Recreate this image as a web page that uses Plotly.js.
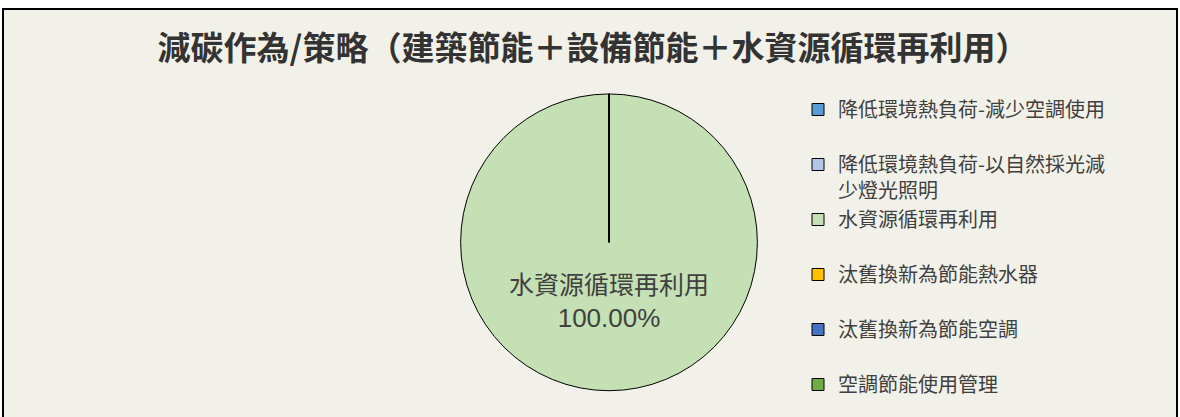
<!DOCTYPE html>
<html>
<head>
<meta charset="utf-8">
<script src="https://cdn.plot.ly/plotly-3.0.1.min.js"></script>
<style>
html,body{margin:0;padding:0;background:#ffffff;overflow:hidden;}
#chart{position:absolute;left:2px;top:8px;width:1172px;height:420px;border:2px solid #000;background:#F2F1E9;}
</style>
</head>
<body>
<div id="chart"></div>
<script>
// Data
const chartTitle = "減碳作為/策略（建築節能＋設備節能＋水資源循環再利用）";
const categories = [
  "降低環境熱負荷-減少空調使用",
  "降低環境熱負荷-以自然採光減<br>少燈光照明",
  "水資源循環再利用",
  "汰舊換新為節能熱水器",
  "汰舊換新為節能空調",
  "空調節能使用管理"
];
const values = [0, 0, 1, 0, 0, 0];
const sliceColors = ["#5B9BD5", "#B4C7E7", "#C5E0B4", "#FFC000", "#4472C4", "#70AD47"];

const total = values.reduce((a, b) => a + b, 0);
const labelIdx = values.indexOf(Math.max(...values));
const pctText = (values[labelIdx] / total * 100).toFixed(2) + "%";

// legend entries: pad one-line labels with a blank second line for spacing
const legendLabels = categories.map(c => c.indexOf("<br>") >= 0 ? c : c + "<br>\u00A0");

const W = 1172, H = 420;
const cx = 605, cy = 238, R = 152;

const trace = {
  type: "pie",
  labels: legendLabels,
  values: values,
  sort: false,
  direction: "clockwise",
  rotation: 0,
  marker: {colors: sliceColors, line: {color: "#000000", width: 1}},
  textinfo: "none",
  hoverinfo: "label+percent",
  domain: {x: [(cx - R) / W, (cx + R) / W], y: [(H - cy - R) / H, (H - cy + R) / H]},
  showlegend: true
};

const layout = {
  width: W, height: H,
  margin: {l: 0, r: 0, t: 0, b: 0},
  paper_bgcolor: "#F2F1E9",
  plot_bgcolor: "#F2F1E9",
  font: {family: "Noto Sans CJK TC", color: "#404040"},
  title: {
    text: chartTitle,
    font: {family: "Noto Sans CJK TC", size: 33, color: "#333333", weight: "bold"},
    x: (593 - 4) / W, xanchor: "center", xref: "paper",
    y: 1 - 38 / H, yanchor: "middle", yref: "container"
  },
  legend: {
    x: (798 - 4) / W, xanchor: "left",
    y: 1 - (92 - 10) / H, yanchor: "top",
    valign: "top",
    bgcolor: "rgba(0,0,0,0)",
    font: {family: "Noto Sans CJK TC", size: 20, color: "#404040"}
  },
  annotations: [{
    text: categories[labelIdx] + "<br><span style='font-family:Liberation Sans,Arial;font-size:26px'>" + pctText + "</span>",
    x: cx / W, y: 1 - 296 / H, xref: "paper", yref: "paper",
    xanchor: "center", yanchor: "middle",
    showarrow: false,
    font: {family: "Noto Sans CJK TC", size: 25, color: "#404040"}
  }]
};

Plotly.newPlot("chart", [trace], layout, {displayModeBar: false, staticPlot: true});
</script>
</body>
</html>
